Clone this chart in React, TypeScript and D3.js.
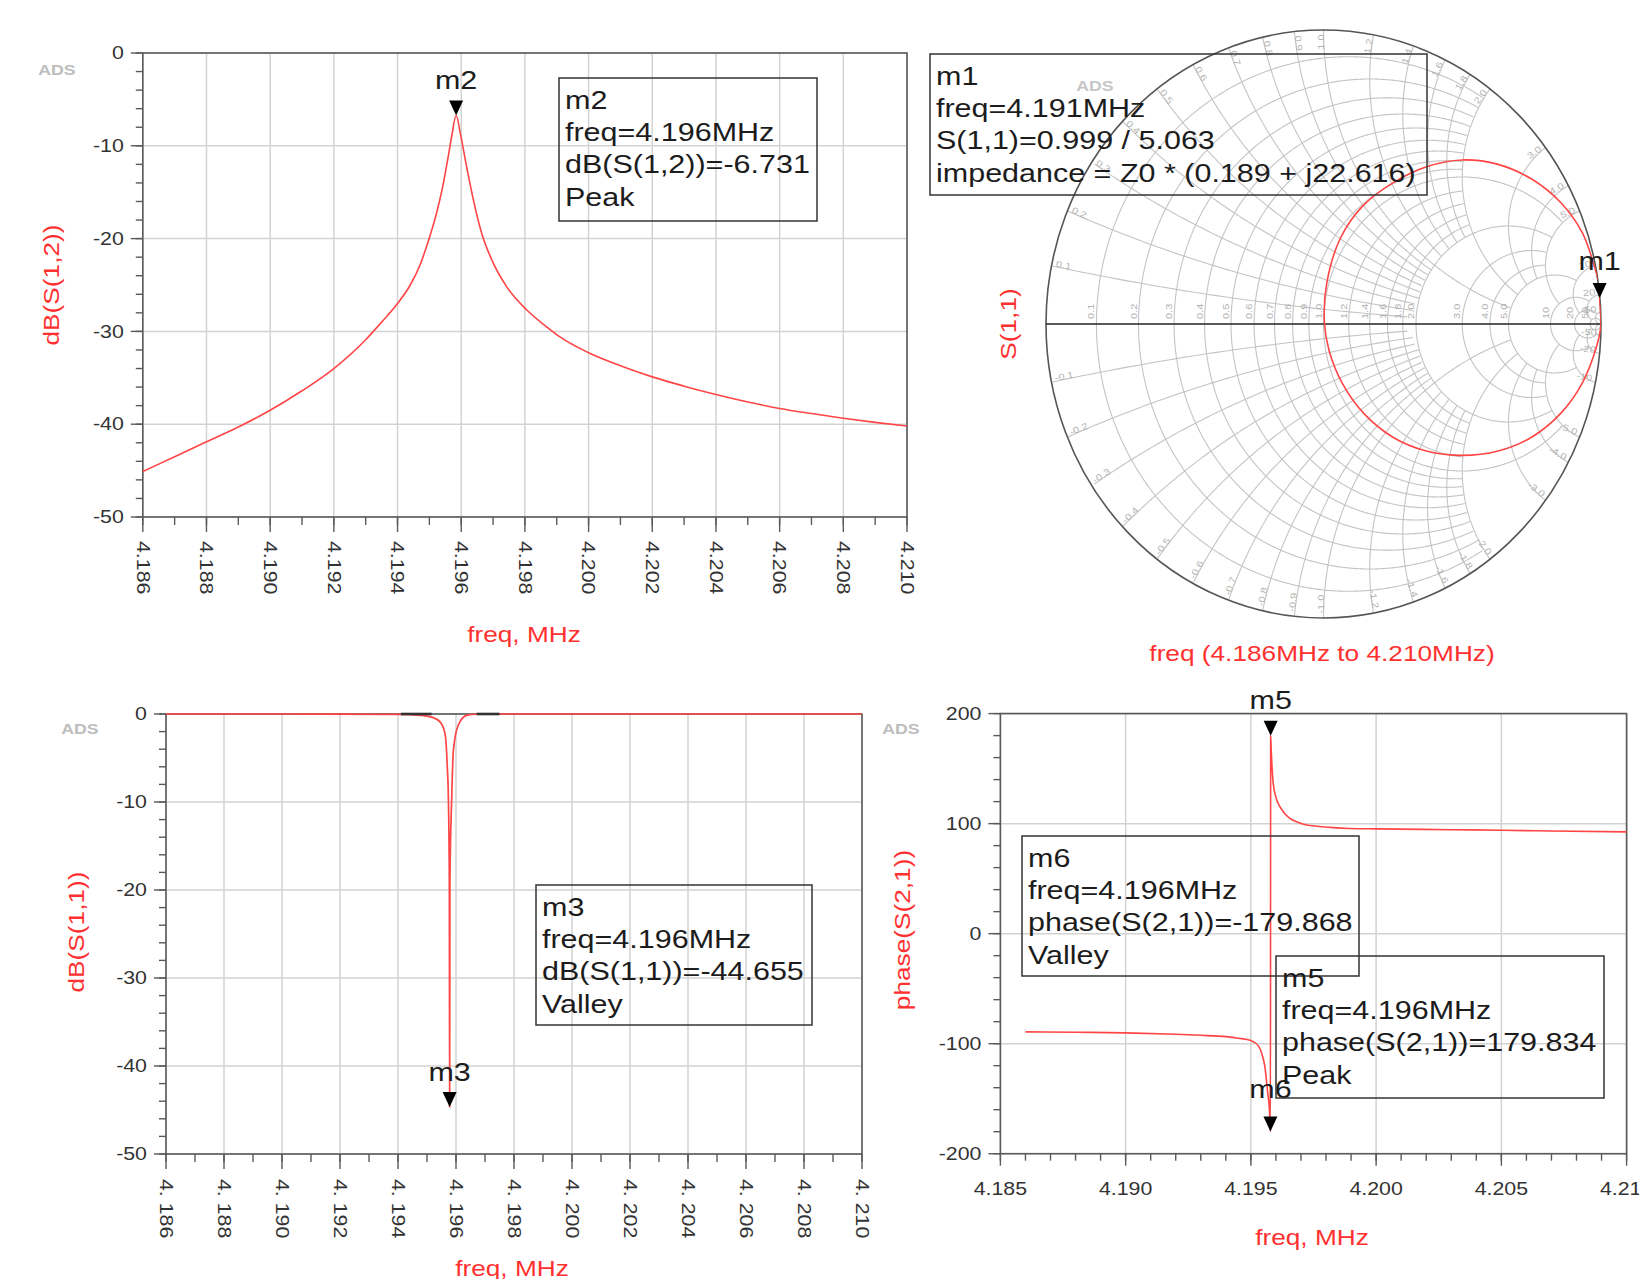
import React from "react";
import * as d3 from "d3";

const FONT = '"Liberation Sans", Arial, Helvetica, sans-serif';
const STRETCH = 1.22;
const RED_TXT = "#ff3030";
const RED_LINE = "#ff4545";
const GRID = "#d3d3d3";
const FRAME = "#5a5a5a";

// ---------------- data ----------------
// dB(S(1,2)) (top-left)
const s12Freq = [4.186, 4.187, 4.188, 4.189, 4.19, 4.191, 4.192, 4.193, 4.1935, 4.194, 4.1944, 4.1947, 4.195, 4.1952, 4.1954, 4.1956, 4.1957, 4.19584, 4.19598, 4.19615, 4.19638, 4.19664, 4.19696, 4.19743, 4.19806, 4.19868, 4.1991, 4.2, 4.201, 4.202, 4.203, 4.204, 4.205, 4.206, 4.207, 4.208, 4.209, 4.21];
const s12dB = [-45.1, -43.5, -41.9, -40.3, -38.5, -36.4, -34.0, -30.9, -29.0, -27.0, -25.0, -22.9, -19.9, -17.6, -14.7, -11.0, -9.0, -6.731, -8.8, -11.9, -15.8, -19.4, -22.3, -25.2, -27.7, -29.5, -30.6, -32.3, -33.7, -34.9, -35.9, -36.8, -37.6, -38.3, -38.85, -39.35, -39.8, -40.2];

// dB(S(1,1)) (bottom-left)
const s11Freq = [4.186, 4.19, 4.194, 4.1948, 4.19516, 4.19545, 4.19562, 4.1957, 4.19574, 4.19577, 4.19578, 4.19579, 4.19585, 4.19591, 4.19608, 4.19637, 4.19671, 4.1975, 4.2, 4.21];
const s11dB = [0, 0, -0.05, -0.15, -0.35, -0.9, -2.2, -6.0, -10.0, -19.1, -44.655, -19.1, -9.8, -4.1, -1.25, -0.15, -0.03, 0, 0, 0];
// dark reference trace segments on the 0 dB line
const auxStart = [4.1941, 4.19671];
const auxEnd = [4.19516, 4.1975];

// phase(S(2,1)) (bottom-right)
const phaseFreq = [4.186, 4.188, 4.19, 4.192, 4.193, 4.194, 4.1945, 4.195, 4.1953, 4.19545, 4.19556, 4.19566, 4.19574, 4.19578, 4.19579, 4.19581, 4.19589, 4.196, 4.19616, 4.19636, 4.19656, 4.1969, 4.19723, 4.19816, 4.19896, 4.2, 4.203, 4.205, 4.207, 4.21];
const phaseDeg = [-89.3, -89.6, -90.2, -91.5, -92.4, -93.6, -95.0, -97.2, -102.0, -110.0, -121.0, -142.0, -160.0, -179.868, 179.834, 168.0, 137.0, 124.0, 115.4, 109.0, 104.8, 101.0, 98.7, 96.6, 95.6, 95.2, 94.5, 94.0, 93.3, 92.5];

// S(1,1) on Smith chart (real, imag)
const smithRe = [0.992, 0.9951, 0.998, 0.999, 0.983, 0.933, 0.854, 0.75, 0.629, 0.5, 0.371, 0.25, 0.146, 0.067, 0.02, 0.003, 0.012, 0.06, 0.14, 0.25, 0.371, 0.5, 0.629, 0.75, 0.854, 0.933, 0.975, 0.99];
const smithIm = [0.125, 0.0882, 0.045, -0.01, -0.08, -0.2, -0.305, -0.385, -0.432, -0.447, -0.432, -0.385, -0.305, -0.2, -0.09, 0.01, 0.14, 0.29, 0.4, 0.48, 0.535, 0.558, 0.543, 0.493, 0.414, 0.31, 0.2, 0.15];
const m1Re = 0.9951;
const m1Im = 0.0882;

// ticks / labels
const freqTicksA = [4.186, 4.188, 4.19, 4.192, 4.194, 4.196, 4.198, 4.2, 4.202, 4.204, 4.206, 4.208, 4.21];
const freqLabelsA = ["4.186", "4.188", "4.190", "4.192", "4.194", "4.196", "4.198", "4.200", "4.202", "4.204", "4.206", "4.208", "4.210"];
const freqLabelsA2 = ["4. 186", "4. 188", "4. 190", "4. 192", "4. 194", "4. 196", "4. 198", "4. 200", "4. 202", "4. 204", "4. 206", "4. 208", "4. 210"];
const dbTicks = [0, -10, -20, -30, -40, -50];
const dbLabels = ["0", "-10", "-20", "-30", "-40", "-50"];
const freqTicksB = [4.185, 4.19, 4.195, 4.2, 4.205, 4.21];
const freqLabelsB = ["4.185", "4.190", "4.195", "4.200", "4.205", "4.210"];
const phaseTicks = [200, 100, 0, -100, -200];
const phaseLabels = ["200", "100", "0", "-100", "-200"];
const smithVals = [0.1, 0.2, 0.3, 0.4, 0.5, 0.6, 0.7, 0.8, 0.9, 1.0, 1.2, 1.4, 1.6, 1.8, 2.0, 3.0, 4.0, 5.0, 10, 20, 50];
const smithLabels = ["0.1", "0.2", "0.3", "0.4", "0.5", "0.6", "0.7", "0.8", "0.9", "1.0", "1.2", "1.4", "1.6", "1.8", "2.0", "3.0", "4.0", "5.0", "10", "20", "50"];

const boxM2 = ["m2", "freq=4.196MHz", "dB(S(1,2))=-6.731", "Peak"];
const boxM1 = ["m1", "freq=4.191MHz", "S(1,1)=0.999 / 5.063", "impedance = Z0 * (0.189 + j22.616)"];
const boxM3 = ["m3", "freq=4.196MHz", "dB(S(1,1))=-44.655", "Valley"];
const boxM6 = ["m6", "freq=4.196MHz", "phase(S(2,1))=-179.868", "Valley"];
const boxM5 = ["m5", "freq=4.196MHz", "phase(S(2,1))=179.834", "Peak"];

// ---------------- helpers ----------------
type TP = {
  x: number; y: number; rot?: number; size: number; fill?: string;
  anchor?: "start" | "middle" | "end"; baseline?: string; children: React.ReactNode; weight?: number | string;
};
function T({ x, y, rot = 0, size, fill = "#1c1c1c", anchor = "start", baseline, children, weight }: TP) {
  return (
    <text
      transform={`translate(${x},${y}) rotate(${rot}) scale(${STRETCH},1)`}
      fontSize={size}
      fill={fill}
      textAnchor={anchor}
      dominantBaseline={baseline as any}
      fontFamily={FONT}
      fontWeight={weight as any}
    >
      {children}
    </text>
  );
}

type Lin = d3.ScaleLinear<number, number>;

function Axes(p: {
  xs: Lin; ys: Lin; xMajor: number[]; xLabels: string[]; xMinor: number[];
  yMajor: number[]; yLabels: string[]; yMinor: number[]; xGrid: number[]; yGrid: number[];
  xRot: boolean; xTick: [number, number]; yTick: [number, number]; xLabelOff: number;
}) {
  const { xs, ys } = p;
  const [xa, xb] = xs.range();
  const [yb, ya] = ys.range();
  return (
    <g>
      {p.xGrid.map((v, i) => (
        <line key={"gx" + i} x1={xs(v)} x2={xs(v)} y1={ya} y2={yb} stroke={GRID} strokeWidth={1.5} />
      ))}
      {p.yGrid.map((v, i) => (
        <line key={"gy" + i} x1={xa} x2={xb} y1={ys(v)} y2={ys(v)} stroke={GRID} strokeWidth={1.5} />
      ))}
      <rect x={xa} y={ya} width={xb - xa} height={yb - ya} fill="none" stroke={FRAME} strokeWidth={1.6} />
      {p.xMinor.map((v, i) => (
        <line key={"xm" + i} x1={xs(v)} x2={xs(v)} y1={yb} y2={yb + p.xTick[1]} stroke={FRAME} strokeWidth={1.4} />
      ))}
      {p.xMajor.map((v, i) => (
        <line key={"xM" + i} x1={xs(v)} x2={xs(v)} y1={yb} y2={yb + p.xTick[0]} stroke={FRAME} strokeWidth={1.4} />
      ))}
      {p.yMinor.map((v, i) => (
        <line key={"ym" + i} x1={xa - p.yTick[1]} x2={xa} y1={ys(v)} y2={ys(v)} stroke={FRAME} strokeWidth={1.4} />
      ))}
      {p.yMajor.map((v, i) => (
        <line key={"yM" + i} x1={xa - p.yTick[0]} x2={xa} y1={ys(v)} y2={ys(v)} stroke={FRAME} strokeWidth={1.4} />
      ))}
      {p.yMajor.map((v, i) => (
        <T key={"yl" + i} x={xa - 19} y={ys(v)} size={17.5} anchor="end" baseline="central" fill="#333">
          {p.yLabels[i]}
        </T>
      ))}
      {p.xMajor.map((v, i) =>
        p.xRot ? (
          <T key={"xl" + i} x={xs(v)} y={yb + p.xLabelOff} rot={90} size={17.5} baseline="central" fill="#333">
            {p.xLabels[i]}
          </T>
        ) : (
          <T key={"xl" + i} x={xs(v)} y={yb + p.xLabelOff} size={17.5} anchor="middle" baseline="central" fill="#333">
            {p.xLabels[i]}
          </T>
        )
      )}
    </g>
  );
}

function Marker({ px, py, label, off = 26 }: { px: number; py: number; label: string; off?: number }) {
  return (
    <g>
      <path d={`M${px - 7},${py - 15} L${px + 7},${py - 15} L${px},${py} Z`} fill="#000" />
      <T x={px} y={py - off} size={25} anchor="middle">{label}</T>
    </g>
  );
}

function Box({ x, y, w, h, lines }: { x: number; y: number; w: number; h: number; lines: string[] }) {
  return (
    <g>
      <rect x={x} y={y} width={w} height={h} fill="none" stroke="#333" strokeWidth={1.5} />
      {lines.map((s, i) => (
        <T key={i} x={x + 6} y={y + 31 + i * 32.2} size={25}>{s}</T>
      ))}
    </g>
  );
}

function minorRange(a: number, b: number, step: number) {
  const n = Math.round((b - a) / step);
  return d3.range(n + 1).map((i) => a + i * step);
}

// Smith chart helpers
function zOf(u: number, v: number) {
  const d = (1 - u) * (1 - u) + v * v;
  return [(1 - u * u - v * v) / d, (2 * v) / d];
}
function limitFor(v: number) {
  if (v < 0.95) return 2;
  if (v < 1.05) return 5;
  if (v < 1.95) return 2;
  if (v < 4.5) return 5;
  if (v < 6) return 10;
  if (v < 15) return 20;
  if (v < 30) return 50;
  return Infinity;
}
function rArc(r: number, xmax: number): [number, number][] {
  const c = r / (1 + r), R = 1 / (1 + r);
  const pts: [number, number][] = [];
  const N = 900;
  for (let i = 1; i < N; i++) {
    const a = (2 * Math.PI * i) / N;
    const u = c + R * Math.cos(a), v = R * Math.sin(a);
    const x = zOf(u, v)[1];
    if (Math.abs(x) <= xmax) pts.push([u, v]);
  }
  return pts;
}
function xArc(x: number, rmax: number): [number, number][] {
  const ax = Math.abs(x), s = x > 0 ? 1 : -1, R = 1 / ax;
  const pts: [number, number][] = [];
  const N = 900;
  for (let i = 1; i <= N; i++) {
    const a = -Math.PI / 2 - (Math.PI * i) / N;
    const u = 1 + R * Math.cos(a), v = s * (1 / ax + R * Math.sin(a));
    if (u * u + v * v > 1.000001) continue;
    const r = zOf(u, v)[0];
    if (r <= rmax) pts.push([u, v]);
  }
  return pts;
}

export default function App() {
  // scales
  const p1x = d3.scaleLinear().domain([4.186, 4.21]).range([142.8, 907]);
  const p1y = d3.scaleLinear().domain([-50, 0]).range([517, 53]);
  const p3x = d3.scaleLinear().domain([4.186, 4.21]).range([166, 862]);
  const p3y = d3.scaleLinear().domain([-50, 0]).range([1154, 714]);
  const p4x = d3.scaleLinear().domain([4.185, 4.21]).range([1000.4, 1626.6]);
  const p4y = d3.scaleLinear().domain([-200, 200]).range([1153.7, 713.6]);
  const smX = d3.scaleLinear().domain([-1, 1]).range([1046, 1601]);
  const smY = d3.scaleLinear().domain([-1, 1]).range([618, 30]);

  const line1 = d3.line<number>().x((_, i) => p1x(s12Freq[i])).y((d) => p1y(d)).curve(d3.curveMonotoneX);
  const line3 = d3.line<number>().x((_, i) => p3x(s11Freq[i])).y((d) => p3y(d)).curve(d3.curveMonotoneX);
  const line4 = d3.line<number>().x((_, i) => p4x(phaseFreq[i])).y((d) => p4y(d)).curve(d3.curveMonotoneX);
  const smLine = d3.line<[number, number]>().x((d) => smX(d[0])).y((d) => smY(d[1]));
  const smTrace = d3
    .line<number>()
    .x((_, i) => smX(smithRe[i]))
    .y((_, i) => smY(smithIm[i]))
    .curve(d3.curveCatmullRom.alpha(0.5));

  const dbMinor = minorRange(-50, 0, 2);
  const fMinorA = minorRange(4.186, 4.21, 0.001);
  const fMinorB = minorRange(4.185, 4.21, 0.001);
  const phMinor = minorRange(-200, 200, 20);

  const cx = smX(0), cy = smY(0);
  const rx = (smX(1) - smX(-1)) / 2, ry = (smY(-1) - smY(1)) / 2;

  const smithGrid: JSX.Element[] = [];
  smithVals.forEach((v, i) => {
    const pr = rArc(v, limitFor(v));
    smithGrid.push(<path key={"r" + i} d={smLine(pr) || ""} fill="none" stroke="#c4c4c4" strokeWidth={1.1} />);
    [v, -v].forEach((xv, k) => {
      const px = xArc(xv, limitFor(v));
      smithGrid.push(<path key={"x" + i + "_" + k} d={smLine(px) || ""} fill="none" stroke="#c4c4c4" strokeWidth={1.1} />);
    });
  });

  const smithTxt: JSX.Element[] = [];
  smithVals.forEach((v, i) => {
    const u = (v - 1) / (v + 1);
    smithTxt.push(
      <T key={"rl" + i} x={smX(u) - 2} y={cy - 5} rot={-90} size={9} fill="#b3b3b3">
        {smithLabels[i]}
      </T>
    );
    [v, -v].forEach((xv, k) => {
      const th = Math.atan2(2 * xv, xv * xv - 1);
      const c = Math.cos(th), s = Math.sin(th);
      const px = smX(0.985 * c), py = smY(0.985 * s);
      const outward = c > 0.02 || (Math.abs(c) <= 0.02 && s > 0);
      const deg = (-th * 180) / Math.PI;
      smithTxt.push(
        <T key={"xl" + i + "_" + k} x={px} y={py} rot={outward ? deg : deg + 180} size={9} fill="#b3b3b3" anchor={outward ? "end" : "start"}>
          {(xv < 0 ? "-" : "") + smithLabels[i]}
        </T>
      );
    });
  });

  return (
    <svg width={1639} height={1279} style={{ position: "absolute", left: 0, top: 0, background: "#fff" }}>
      <defs>
        <clipPath id="smclip">
          <ellipse cx={cx} cy={cy} rx={rx} ry={ry} />
        </clipPath>
      </defs>
      <rect x={0} y={0} width={1639} height={1279} fill="#fff" />

      {/* ---------- Panel 1: dB(S(1,2)) ---------- */}
      <Axes xs={p1x} ys={p1y} xMajor={freqTicksA} xLabels={freqLabelsA} xMinor={fMinorA}
        yMajor={dbTicks} yLabels={dbLabels} yMinor={dbMinor} xGrid={freqTicksA} yGrid={dbTicks}
        xRot={true} xTick={[15, 8]} yTick={[12, 7]} xLabelOff={24} />
      <path d={line1(s12dB) || ""} fill="none" stroke={RED_LINE} strokeWidth={1.6} />
      <Marker px={p1x(4.19584)} py={p1y(-6.731)} label="m2" />
      <Box x={559} y={78} w={258} h={143} lines={boxM2} />
      <T x={51} y={285} rot={-90} size={21.5} fill={RED_TXT} anchor="middle" baseline="central">dB(S(1,2))</T>
      <T x={524} y={634} size={21.5} fill={RED_TXT} anchor="middle" baseline="central">freq, MHz</T>
      <T x={57} y={70} size={14.5} fill="#bdbdbd" anchor="middle" baseline="central" weight={700}>ADS</T>

      {/* ---------- Panel 2: Smith chart ---------- */}
      <g clipPath="url(#smclip)">{smithGrid}</g>
      <g>{smithTxt}</g>
      <ellipse cx={cx} cy={cy} rx={rx} ry={ry} fill="none" stroke="#555" strokeWidth={1.6} />
      <line x1={smX(-1)} x2={smX(1)} y1={cy} y2={cy} stroke="#222" strokeWidth={1.5} />
      <T x={1095} y={86} size={14.5} fill="#c6c6c6" anchor="middle" baseline="central" weight={700}>ADS</T>
      <path d={smTrace(smithRe) || ""} fill="none" stroke={RED_LINE} strokeWidth={1.6} clipPath="url(#smclip)" />
      <Marker px={smX(m1Re)} py={smY(m1Im)} label="m1" off={28} />
      <Box x={930} y={54} w={497} h={141} lines={boxM1} />
      <T x={1008} y={324} rot={-90} size={21.5} fill={RED_TXT} anchor="middle" baseline="central">S(1,1)</T>
      <T x={1322} y={653} size={21.5} fill={RED_TXT} anchor="middle" baseline="central">freq (4.186MHz to 4.210MHz)</T>

      {/* ---------- Panel 3: dB(S(1,1)) ---------- */}
      <Axes xs={p3x} ys={p3y} xMajor={freqTicksA} xLabels={freqLabelsA2} xMinor={fMinorA}
        yMajor={dbTicks} yLabels={dbLabels} yMinor={dbMinor} xGrid={freqTicksA} yGrid={dbTicks}
        xRot={true} xTick={[15, 8]} yTick={[12, 7]} xLabelOff={25} />
      <path d={line3(s11dB) || ""} fill="none" stroke={RED_LINE} strokeWidth={1.7} />
      {auxStart.map((f, i) => (
        <line key={"aux" + i} x1={p3x(f)} x2={p3x(auxEnd[i])} y1={p3y(0)} y2={p3y(0)} stroke="#333" strokeWidth={2.6} />
      ))}
      <Marker px={p3x(4.19578)} py={p3y(-44.655)} label="m3" />
      <Box x={536} y={885} w={276} h={140} lines={boxM3} />
      <T x={76} y={932} rot={-90} size={21.5} fill={RED_TXT} anchor="middle" baseline="central">dB(S(1,1))</T>
      <T x={512} y={1268} size={21.5} fill={RED_TXT} anchor="middle" baseline="central">freq, MHz</T>
      <T x={80} y={729} size={14.5} fill="#bdbdbd" anchor="middle" baseline="central" weight={700}>ADS</T>

      {/* ---------- Panel 4: phase(S(2,1)) ---------- */}
      <Axes xs={p4x} ys={p4y} xMajor={freqTicksB} xLabels={freqLabelsB} xMinor={fMinorB}
        yMajor={phaseTicks} yLabels={phaseLabels} yMinor={phMinor} xGrid={freqTicksB} yGrid={phaseTicks}
        xRot={false} xTick={[12, 7]} yTick={[12, 7]} xLabelOff={35} />
      <path d={line4(phaseDeg) || ""} fill="none" stroke={RED_LINE} strokeWidth={1.6} />
      <Marker px={p4x(4.19579)} py={p4y(179.834)} label="m5" off={27} />
      <Marker px={p4x(4.19578)} py={p4y(-179.868)} label="m6" off={34} />
      <Box x={1022} y={836} w={337} h={140} lines={boxM6} />
      <Box x={1276} y={956} w={328} h={142} lines={boxM5} />
      <T x={902} y={930} rot={-90} size={21.5} fill={RED_TXT} anchor="middle" baseline="central">phase(S(2,1))</T>
      <T x={1312} y={1237} size={21.5} fill={RED_TXT} anchor="middle" baseline="central">freq, MHz</T>
      <T x={901} y={729} size={14.5} fill="#bdbdbd" anchor="middle" baseline="central" weight={700}>ADS</T>
    </svg>
  );
}
